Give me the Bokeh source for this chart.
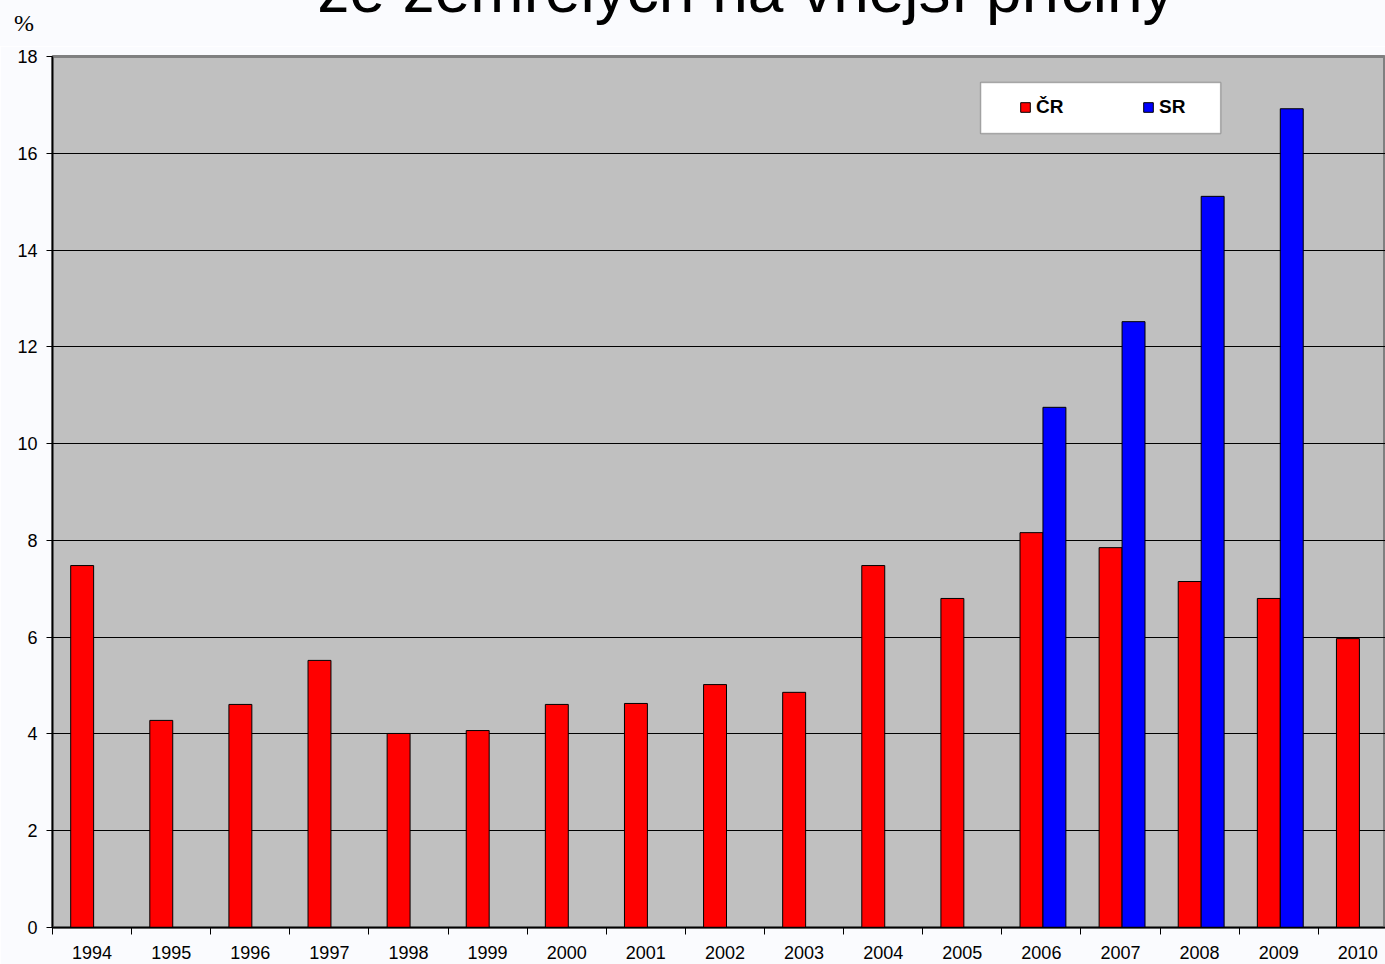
from bokeh.plotting import figure
from bokeh.layouts import column
from bokeh.models import Range1d, FixedTicker, BoxAnnotation, Legend, LegendItem, Div
from bokeh.embed import file_html
from bokeh.resources import INLINE

years = ["1994", "1995", "1996", "1997", "1998", "1999", "2000", "2001", "2002",
         "2003", "2004", "2005", "2006", "2007", "2008", "2009", "2010"]
cr = [7.48, 4.28, 4.61, 5.52, 4.01, 4.07, 4.61, 4.63, 5.02, 4.86, 7.48, 6.80,
      8.16, 7.85, 7.15, 6.80, 5.97]
sr_years = ["2006", "2007", "2008", "2009"]
sr = [10.75, 12.52, 15.11, 16.92]
title_text = "ze zemřelých na vnější příčiny"
unit_text = "%"
y_ticks = [0, 2, 4, 6, 8, 10, 12, 14, 16, 18]

PAGE_BG = "#FAFBFE"
W = 1385
TOP_H = 46

n = len(years)
centers = [i + 0.5 for i in range(n)]
cr_x = [c - 0.125 for c in centers]
sr_x = [centers[years.index(y)] + 0.165 for y in sr_years]

# ---- header strip: title (cut at the top edge as in the original) and unit ----
header_html = (
    f'<div style="position:relative;width:{W}px;height:{TOP_H}px;overflow:hidden;'
    f'background:{PAGE_BG};margin:0;padding:0">'
    f'<span style="position:absolute;left:746px;top:-42px;transform:translateX(-50%);'
    f'white-space:nowrap;font-family:\'Liberation Sans\';font-size:64px;line-height:64px;'
    f'color:black">{title_text}</span>'
    f'<span style="position:absolute;left:14px;top:11px;white-space:nowrap;'
    f'font-family:\'Liberation Serif\';font-size:24px;line-height:24px;color:black">{unit_text}</span>'
    f'</div>'
)
header = Div(text=header_html, width=W, height=TOP_H, margin=0,
             styles={"margin": "0", "padding": "0"})

# ---- chart ----
p = figure(title=None, width=W, height=918, output_backend="svg", toolbar_location=None,
           x_range=Range1d(0, 16.85), y_range=Range1d(0, 18),
           min_border_left=52, min_border_right=0, min_border_top=10, min_border_bottom=37)
p.background_fill_color = "#C0C0C0"
p.border_fill_color = PAGE_BG
p.outline_line_color = "#808080"
p.outline_line_width = 3

p.xgrid.grid_line_color = None
p.ygrid.grid_line_color = "black"
p.ygrid.grid_line_width = 1
p.ygrid.ticker = FixedTicker(ticks=y_ticks)

r_cr = p.vbar(x=cr_x, top=cr, width=0.29, bottom=0, fill_color="#FF0000",
              line_color="black", line_width=1)
r_sr = p.vbar(x=sr_x, top=sr, width=0.29, bottom=0, fill_color="#0000FF",
              line_color="black", line_width=1)

p.yaxis.ticker = FixedTicker(ticks=y_ticks)
p.yaxis.axis_line_color = "black"
p.yaxis.axis_line_width = 1.5
p.yaxis.major_tick_in = 0
p.yaxis.major_tick_out = 6
p.yaxis.minor_tick_line_color = None
p.yaxis.major_label_text_font = "Liberation Sans"
p.yaxis.major_label_text_font_size = "18px"
p.yaxis.major_label_text_color = "black"
p.yaxis.major_label_standoff = 9

p.xaxis.ticker = FixedTicker(ticks=centers, minor_ticks=list(range(n + 1)))
p.xaxis.major_label_overrides = {c: y for c, y in zip(centers, years)}
p.xaxis.axis_line_color = "black"
p.xaxis.axis_line_width = 1.5
p.xaxis.major_tick_line_color = None
p.xaxis.major_tick_in = 0
p.xaxis.major_tick_out = 7
p.xaxis.minor_tick_line_color = "black"
p.xaxis.minor_tick_in = 0
p.xaxis.minor_tick_out = 7
p.xaxis.major_label_text_font = "Liberation Sans"
p.xaxis.major_label_text_font_size = "18px"
p.xaxis.major_label_text_color = "black"
p.xaxis.major_label_standoff = 11

# legend box
p.add_layout(BoxAnnotation(left=(980 - 52) / 79.1, right=(1220 - 52) / 79.1,
                           bottom=(927 - 133) / 48.39, top=(927 - 82) / 48.39,
                           fill_color="white", fill_alpha=1, line_color="#202020",
                           line_width=1.5, level="overlay"))
legend = Legend(items=[LegendItem(label="ČR", renderers=[r_cr]),
                       LegendItem(label="SR", renderers=[r_sr])],
                orientation="horizontal", location=(967, 809),
                padding=0, margin=0, spacing=6, label_width=100,
                glyph_width=12, glyph_height=12, label_standoff=5,
                label_text_font="Liberation Sans", label_text_font_style="bold",
                label_text_font_size="19px", label_text_color="black",
                border_line_alpha=0, background_fill_alpha=0)
p.add_layout(legend)

layout = column(header, p, spacing=0)
open("out.html", "w").write(file_html(layout, INLINE))
